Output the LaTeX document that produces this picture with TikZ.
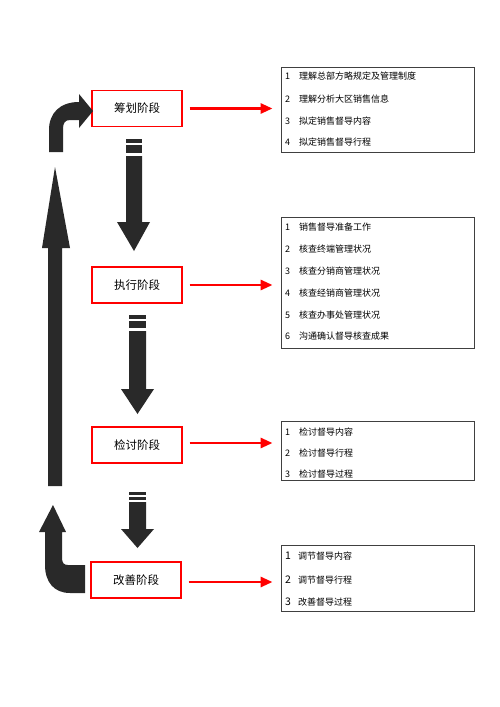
\documentclass[tikz,border=0pt]{standalone}
\usepackage{fontspec}
\setmainfont{Noto Sans CJK SC}
\usetikzlibrary{arrows.meta}

\begin{document}
\begin{tikzpicture}[x=1pt,y=-1pt,
    stage/.style={draw=red, line width=1.4pt, minimum width=90pt, minimum height=36pt, inner sep=0pt, font=\fontsize{11.5}{13}\selectfont},
    listbox/.style={draw=black!75, line width=0.9pt, minimum width=193pt, inner sep=0pt},
    item/.style={anchor=west, inner sep=0pt, font=\fontsize{9}{10}\selectfont},
    block/.style={fill=black!84},
    push/.style={red, line width=2.8pt, -{Triangle[length=12pt,width=10pt]}, shorten <=7pt, shorten >=8pt}]

    \fill[white] (0,0) rectangle (500,707);

    \node[stage] (plan) at (137,108.5) {筹划阶段};
    \node[stage] (exec) at (137,285) {执行阶段};
    \node[stage] (review) at (137,445) {检讨阶段};
    \node[stage] (improve) at (136,580) {改善阶段};

    \node[listbox, minimum height=85pt] (planlist) at (377.5,109.5) {};
    \node[listbox, minimum height=131pt] (execlist) at (377.5,282.5) {};
    \node[listbox, minimum height=59pt] (reviewlist) at (377.5,450.5) {};
    \node[listbox, minimum height=66pt] (improvelist) at (377.5,578) {};

    \node[item] (pl1) at (285,76) {1\hspace{9pt}理解总部方略规定及管理制度};
    \node[item] (pl2) at (285,99) {2\hspace{9pt}理解分析大区销售信息};
    \node[item] (pl3) at (285,121) {3\hspace{9pt}拟定销售督导内容};
    \node[item] (pl4) at (285,142) {4\hspace{9pt}拟定销售督导行程};

    \node[item] (ex1) at (285,227) {1\hspace{9pt}销售督导准备工作};
    \node[item] (ex2) at (285,249.5) {2\hspace{9pt}核查终端管理状况};
    \node[item] (ex3) at (285,271.5) {3\hspace{9pt}核查分销商管理状况};
    \node[item] (ex4) at (285,293) {4\hspace{9pt}核查经销商管理状况};
    \node[item] (ex5) at (285,315) {5\hspace{9pt}核查办事处管理状况};
    \node[item] (ex6) at (285,336.5) {6\hspace{9pt}沟通确认督导核查成果};

    \node[item] (rv1) at (285,432) {1\hspace{9pt}检讨督导内容};
    \node[item] (rv2) at (285,453) {2\hspace{9pt}检讨督导行程};
    \node[item] (rv3) at (285,474) {3\hspace{9pt}检讨督导过程};

    \node[item] (im1) at (285,556.5) {\fontsize{10.5}{12}\selectfont 1\hspace{7pt}\fontsize{9}{10}\selectfont 调节督导内容};
    \node[item] (im2) at (285,580) {\fontsize{10.5}{12}\selectfont 2\hspace{7pt}\fontsize{9}{10}\selectfont 调节督导行程};
    \node[item] (im3) at (285,602.5) {\fontsize{10.5}{12}\selectfont 3\hspace{7pt}\fontsize{9}{10}\selectfont 改善督导过程};

    \draw[push] (plan.east) -- (plan.east -| planlist.west);
    \draw[push] (exec.east) -- (exec.east -| execlist.west);
    \draw[push] ([yshift=2pt]review.east) -- ([yshift=2pt]review.east -| reviewlist.west);
    \draw[push] ([yshift=-2pt]improve.east) -- ([yshift=-2pt]improve.east -| improvelist.west);

    \fill[block] (126,139) rectangle (142,143);
    \fill[block] (126,145) rectangle (142,153);
    \fill[block] (126,156) -- (126,222) -- (117,222) -- (134,251) -- (150,222) -- (142,222) -- (142,156) -- cycle;

    \fill[block] (129,315) rectangle (146,319);
    \fill[block] (129,321) rectangle (146,328);
    \fill[block] (129,331) -- (129,389) -- (121,389) -- (137.5,414) -- (154,389) -- (146,389) -- (146,331) -- cycle;

    \fill[block] (129,492) rectangle (146,495);
    \fill[block] (129,497) rectangle (146,500);
    \fill[block] (129,502) -- (129,529) -- (121,529) -- (137.5,548) -- (154,529) -- (146,529) -- (146,502) -- cycle;

    \fill[block] (48,486) -- (48,248) -- (42,248) -- (55,167) -- (70,248) -- (62,248) -- (62,486) -- cycle;

    \fill[block] (49,152) -- (49,130) .. controls (49,113) and (60,102) .. (79,102) -- (79,94) -- (93,111) -- (79,128) -- (79,120) -- (70,120) .. controls (65,120) and (63,123) .. (63,129) -- (63,152) -- cycle;

    \fill[block] (85,593) -- (70,593) .. controls (54,593) and (45,582) .. (45,565) -- (45,532) -- (39,532) -- (53,505) -- (66,532) -- (62,532) -- (62,558) .. controls (62,563) and (64,565) .. (68,565) -- (85,565) -- cycle;

\end{tikzpicture}
\end{document}
